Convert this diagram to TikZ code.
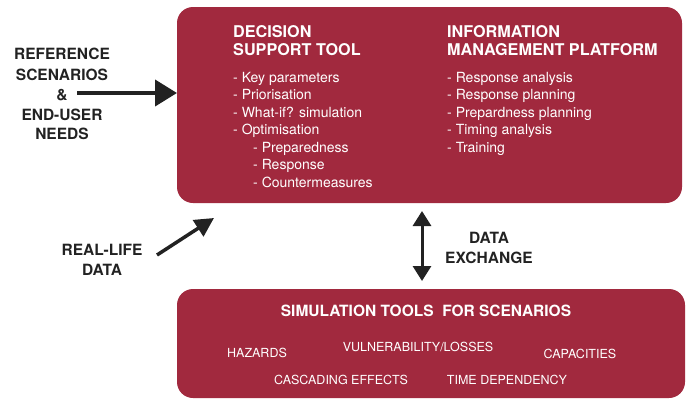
\documentclass[tikz,border=0pt]{standalone}
\usepackage{fontspec}
\setmainfont{TeX Gyre Heros}
\usetikzlibrary{arrows.meta}
\definecolor{boxred}{HTML}{A1293E}
\definecolor{ink}{HTML}{222222}
\tikzset{
  panel/.style={fill=boxred, rounded corners=16pt, draw=none},
  hdr/.style={anchor=base west, inner sep=0pt, text=white, font=\fontsize{16.2}{19}\selectfont\bfseries},
  item/.style={anchor=base west, inner sep=0pt, text=white, font=\fontsize{14}{17}\selectfont},
  lbl/.style={anchor=base, inner sep=0pt, text=ink, font=\fontsize{15.5}{18}\selectfont\bfseries},
  simhdr/.style={anchor=base, inner sep=0pt, text=white, font=\fontsize{15.5}{18}\selectfont\bfseries},
  simitem/.style={anchor=base, inner sep=0pt, text=white, font=\fontsize{12.5}{15}\selectfont},
  bigarrow/.style={draw=ink, line width=4pt, -{Triangle[length=22pt,width=26pt]}},
  midarrow/.style={draw=ink, line width=3.5pt, -{Triangle[length=19pt,width=19pt]}},
  dblarrow/.style={draw=ink, line width=3pt, {Triangle[length=15pt,width=18pt]}-{Triangle[length=15pt,width=18pt]}},
}
\begin{document}
\begin{tikzpicture}[x=1pt,y=-1pt]
\useasboundingbox (0,0) rectangle (689,400);
% panels
\path[panel] (177,7) rectangle (682,203);
\coordinate (topW) at (177,93);
\coordinate (topSW) at (214,218);
\coordinate (topS) at (422,211);
\path[panel] (177,289) rectangle (685,398);
\coordinate (botN) at (422,281);

% Decision support tool
\node[hdr] (d1) at (233,37) {DECISION};
\node[hdr] (d2) at (233,55) {SUPPORT TOOL};
\node[item] (k1) at (233,82) {- Key parameters};
\node[item] (k2) at (233,99.5) {- Priorisation};
\node[item] (k3) at (233,117) {- What-if? simulation};
\node[item] (k4) at (233,134.5) {- Optimisation};
\node[item] (k5) at (253,152) {- Preparedness};
\node[item] (k6) at (253,169.5) {- Response};
\node[item] (k7) at (253,187) {- Countermeasures};

% Information management platform
\node[hdr] (i1) at (447,37) {INFORMATION};
\node[hdr] (i2) at (447,55) {MANAGEMENT PLATFORM};
\node[item] (r1) at (447,82) {- Response analysis};
\node[item] (r2) at (447,99.5) {- Response planning};
\node[item] (r3) at (447,117) {- Prepardness planning};
\node[item] (r4) at (447,134.5) {- Timing analysis};
\node[item] (r5) at (447,152) {- Training};

% left labels
\node[lbl] (ref1) at (62,59) {REFERENCE};
\node[lbl] (ref2) at (62,80) {SCENARIOS};
\node[lbl] (ref3) at (62,100) {\&};
\node[lbl] (ref4) at (62,120) {END-USER};
\node[lbl] (ref5) at (62,139) {NEEDS};
\coordinate (a1s) at (77,93);
\draw[bigarrow] (a1s) -- (topW);

\node[lbl] (rl1) at (102,255) {REAL-LIFE};
\node[lbl] (rl2) at (102,275) {DATA};
\coordinate (a2s) at (157,255);
\draw[midarrow] (a2s) -- (topSW);

% data exchange
\draw[dblarrow] (topS) -- (botN);
\node[lbl] (de1) at (489,243) {DATA};
\node[lbl] (de2) at (489,263) {EXCHANGE};

% simulation tools
\node[simhdr] (s0) at (426,316) {SIMULATION TOOLS\ \ FOR SCENARIOS};
\node[simitem] (s1) at (257,357) {HAZARDS};
\node[simitem] (s2) at (418,351) {VULNERABILITY/LOSSES};
\node[simitem] (s3) at (580,358) {CAPACITIES};
\node[simitem] (s4) at (341,384) {CASCADING EFFECTS};
\node[simitem] (s5) at (507,384) {TIME DEPENDENCY};
\end{tikzpicture}
\end{document}
